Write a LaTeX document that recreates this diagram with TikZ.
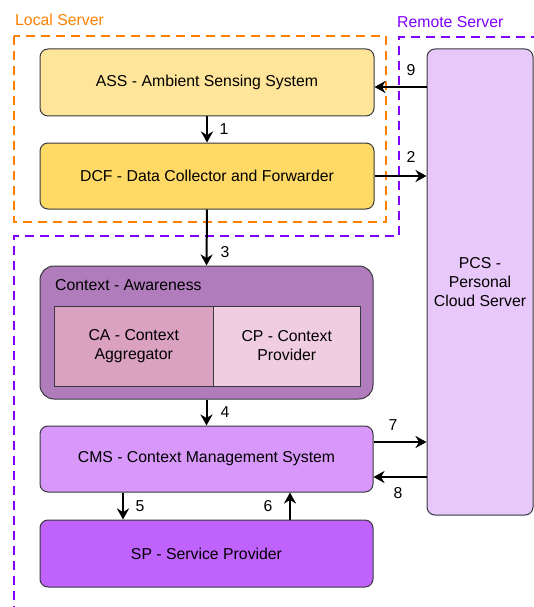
\documentclass[tikz,border=0pt]{standalone}
\usepackage{fontspec}
\setmainfont{Liberation Sans}
\usetikzlibrary{arrows.meta}
\definecolor{assfill}{HTML}{FFE599}
\definecolor{dcffill}{HTML}{FFD966}
\definecolor{ctxfill}{HTML}{B07CBB}
\definecolor{cafill}{HTML}{DBA1C1}
\definecolor{cpfill}{HTML}{F0CDE0}
\definecolor{cmsfill}{HTML}{D898F9}
\definecolor{spfill}{HTML}{C062FC}
\definecolor{pcsfill}{HTML}{E8C7FA}
\definecolor{edgec}{HTML}{36393D}
\definecolor{localc}{HTML}{FF8000}
\definecolor{remotec}{HTML}{7F00FF}
\begin{document}
\begin{tikzpicture}[x=1pt,y=-1pt,
  box/.style={draw=edgec, line width=1pt, rounded corners=8pt, font=\fontsize{15.8}{19}\selectfont, align=center, inner sep=0pt},
  inbox/.style={draw=edgec, line width=1pt, font=\fontsize{15.8}{19}\selectfont, align=center, inner sep=0pt},
  arr/.style={line width=2pt, -{Stealth[length=11pt,width=12pt,inset=3.5pt]}},
  num/.style={font=\fontsize{15.8}{19}\selectfont, inner sep=0pt},
  grp/.style={line width=2pt, dash pattern=on 9pt off 6pt},
  grplabel/.style={font=\fontsize{15.8}{19}\selectfont, inner sep=0pt, anchor=west}]
\useasboundingbox (0,0) rectangle (534,607);
% group frames
\draw[grp, localc] (14,36) rectangle (386,222);
\draw[grp, remotec] (540,37) -- (399,37) -- (399,236) -- (14,236) -- (14,612);
\node[grplabel, text=localc] (lsl) at (15,20) {Local Server};
\node[grplabel, text=remotec] (rsl) at (397,22) {Remote Server};
% boxes
\node[box, fill=assfill, minimum width=334pt, minimum height=67pt] (ASS) at (207,82.5) {ASS - Ambient Sensing System};
\node[box, fill=dcffill, minimum width=334pt, minimum height=66pt] (DCF) at (207,176) {DCF - Data Collector and Forwarder};
\node[box, fill=pcsfill, minimum width=106pt, minimum height=466pt] (PCS) at (480,282) {PCS -\\Personal\\Cloud Server};
\node[box, fill=ctxfill, rounded corners=14pt, minimum width=333pt, minimum height=133pt] (CTX) at (206.5,332.5) {};
\node[grplabel] (ctxl) at (55,285) {Context - Awareness};
\node[inbox, fill=cafill, minimum width=159.5pt, minimum height=80pt] (CA) at (133.75,346) {CA - Context\\Aggregator};
\node[inbox, fill=cpfill, minimum width=146.5pt, minimum height=80pt] (CP) at (286.75,346) {CP - Context\\Provider};
\node[box, fill=cmsfill, minimum width=333pt, minimum height=66pt] (CMS) at (206.5,459) {CMS - Context Management System};
\node[box, fill=spfill, minimum width=333pt, minimum height=67pt] (SP) at (206.5,553.5) {SP - Service Provider};
% connectors
\coordinate (a9) at ([yshift=-4.5pt]ASS.east);
\draw[arr] (PCS.west |- a9) -- (a9);
\draw[arr] (ASS.south) -- (DCF.north);
\draw[arr] (DCF.east) -- (PCS.west |- DCF.east);
\draw[arr] (DCF.south) -- (CTX.north);
\draw[arr] (CTX.south) -- (CMS.north);
\coordinate (a7) at ([yshift=17pt]CMS.east);
\coordinate (a8) at ([yshift=-18pt]CMS.east);
\draw[arr] (a7) -- (PCS.west |- a7);
\draw[arr] (PCS.west |- a8) -- (a8);
\coordinate (a5) at ([xshift=-83.5pt]CMS.south);
\coordinate (a6) at ([xshift=83.5pt]CMS.south);
\draw[arr] (a5) -- (a5 |- SP.north);
\draw[arr] (a6 |- SP.north) -- (a6);
% labels
\node[num] (n1) at (224,129) {1};
\node[num] (n2) at (411,157) {2};
\node[num] (n3) at (225,252) {3};
\node[num] (n4) at (225,412) {4};
\node[num] (n5) at (140,506) {5};
\node[num] (n6) at (268,506) {6};
\node[num] (n7) at (393,425) {7};
\node[num] (n8) at (398,493) {8};
\node[num] (n9) at (411,70) {9};
\end{tikzpicture}
\end{document}
